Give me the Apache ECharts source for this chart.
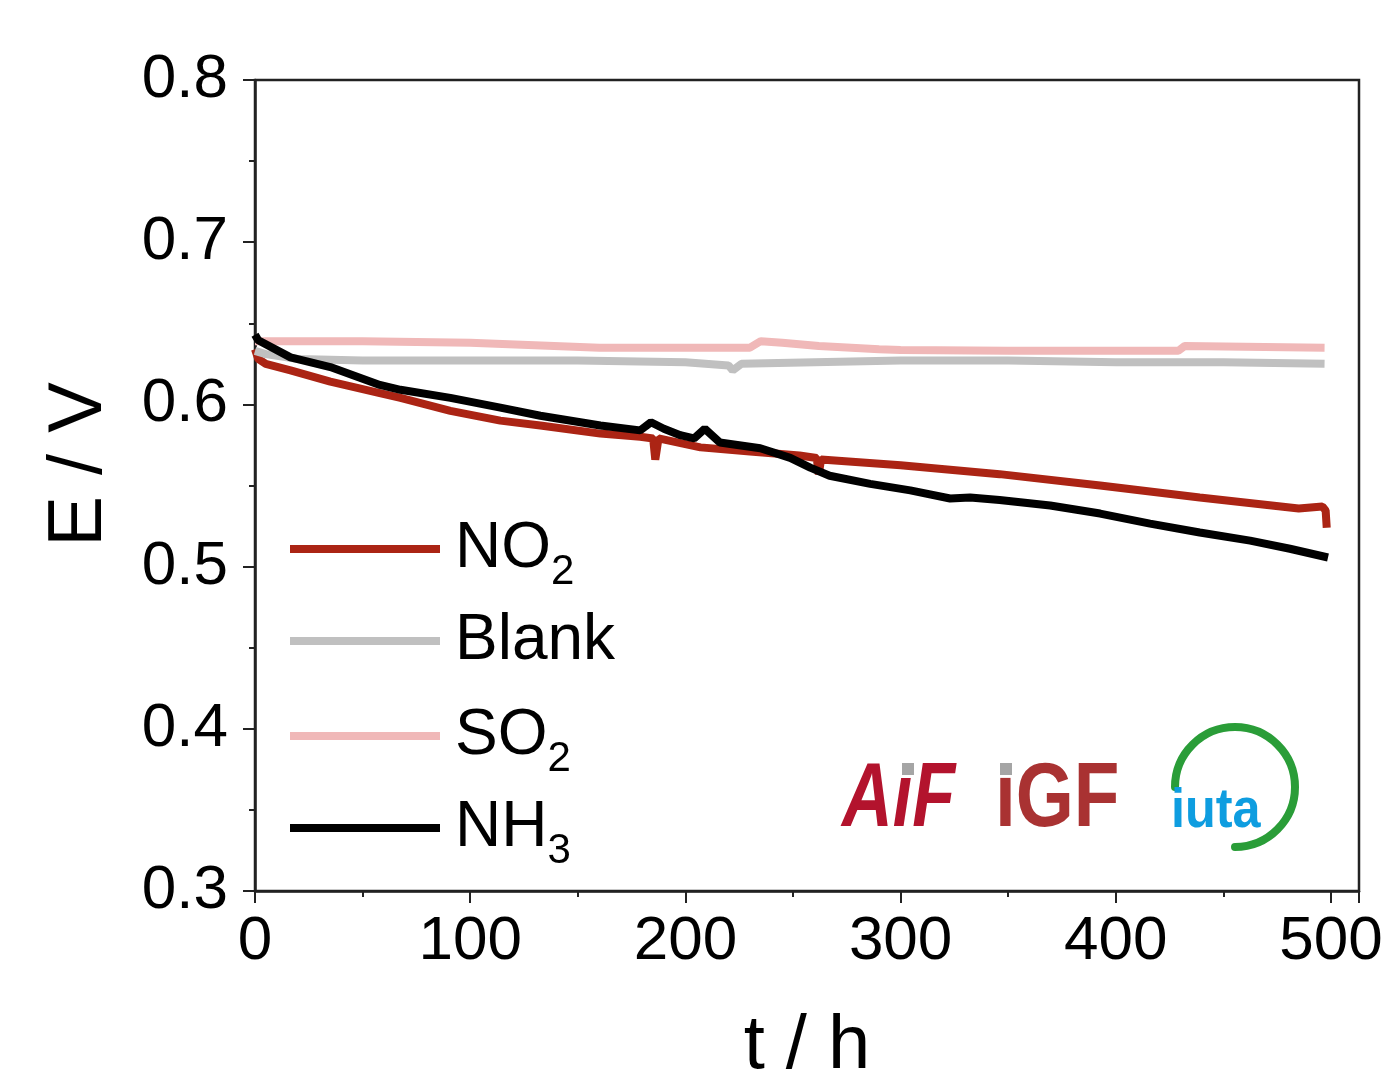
<!DOCTYPE html>
<html style="height: 100%">
<head>
    <meta charset="utf-8">
    <style>
        body { margin: 0; background: #fff; }
        #chart { width: 1388px; height: 1071px; }
    </style>
    <script type="text/javascript" src="https://cdn.jsdelivr.net/npm/echarts@6/dist/echarts.min.js"></script>
</head>
<body>
<div id="chart"></div>
<script type="text/javascript">
    // values (t in h, E in V)
    var seriesNames = ['NO2', 'Blank', 'SO2', 'NH3'];
    var seriesColors = ['#ab2414', '#c0c0c0', '#f0b8b8', '#000000'];

    var tNO2 = [0, 1.5, 5, 16.5, 35, 58, 67.6, 90.8, 114, 132.6, 160.5, 179, 185, 186, 187.5, 207, 230, 253, 261, 262, 263, 300, 346, 392.7, 439, 485, 496, 497.5, 498];
    var vNO2 = [0.634, 0.628, 0.625, 0.621, 0.614, 0.607, 0.604, 0.596, 0.590, 0.587, 0.582, 0.580, 0.579, 0.566, 0.579, 0.5735, 0.571, 0.5685, 0.567, 0.557, 0.566, 0.5625, 0.557, 0.550, 0.5426, 0.5358, 0.537, 0.5346, 0.524];

    var tBlank = [0, 5, 20, 50, 100, 150, 200, 220, 222, 226, 260, 300, 350, 400, 450, 497];
    var vBlank = [0.633, 0.631, 0.628, 0.627, 0.627, 0.627, 0.626, 0.624, 0.621, 0.625, 0.626, 0.627, 0.627, 0.626, 0.626, 0.625];

    var tSO2 = [0, 50, 100, 160, 230, 235, 245, 262, 290, 300, 350, 400, 429, 432, 497];
    var vSO2 = [0.639, 0.639, 0.638, 0.635, 0.635, 0.639, 0.638, 0.636, 0.634, 0.6335, 0.633, 0.633, 0.633, 0.636, 0.635];

    var tNH3 = [0, 1.5, 16.5, 35, 58, 67.6, 90.8, 114, 132.6, 160.5, 179, 184, 190, 197.6, 204, 209, 216, 234.8, 248.7, 258, 267, 285.9, 304.5, 323, 332.3, 346, 369.5, 392.7, 415.9, 439, 462.4, 480.9, 498.6];
    var vNH3 = [0.643, 0.6395, 0.629, 0.623, 0.612, 0.609, 0.604, 0.598, 0.593, 0.587, 0.584, 0.589, 0.585, 0.581, 0.579, 0.585, 0.5765, 0.573, 0.567, 0.561, 0.556, 0.551, 0.547, 0.542, 0.5426, 0.541, 0.5377, 0.5327, 0.5265, 0.521, 0.516, 0.511, 0.5056];

    var xTicks = [0, 100, 200, 300, 400, 500];
    var yTicks = ['0.3', '0.4', '0.5', '0.6', '0.7', '0.8'];

    function pairs(t, v) {
        return t.map(function (x, i) { return [x, v[i]]; });
    }
    var allData = [pairs(tNO2, vNO2), pairs(tBlank, vBlank), pairs(tSO2, vSO2), pairs(tNH3, vNH3)];

    var FONT = 'Liberation Sans';

    // one legend block per entry so the rows sit where the picture has them
    var legendTops = [517, 609, 704, 796];
    function legendFor(name, i) {
        return {
            orient: 'vertical',
            left: 290,
            top: legendTops[i],
            padding: 0,
            itemWidth: 150,
            itemHeight: 8,
            icon: 'rect',
            data: [name],
            formatter: function (n) {
                var m = n.match(/^(.*?)(\d)$/);
                if (m) return '{n|' + m[1] + '}{s|' + m[2] + '}';
                return '{n|' + n + '}{s| }';
            },
            textStyle: {
                padding: [0, 0, 0, 10],
                rich: {
                    n: { fontFamily: FONT, fontSize: 64, color: '#000', lineHeight: 80, verticalAlign: 'middle' },
                    s: { fontFamily: FONT, fontSize: 42, color: '#000', lineHeight: 88, verticalAlign: 'bottom' }
                }
            }
        };
    }

    var dom = document.getElementById('chart');
    var myChart = echarts.init(dom);

    option = {
        backgroundColor: '#fff',
        animation: false,
        grid: {
            left: 255, right: 29, top: 80, bottom: 180,
            containLabel: false,
            outerBoundsMode: 'none',
            show: true, borderColor: '#222', borderWidth: 2.5
        },
        legend: seriesNames.map(legendFor),
        xAxis: {
            type: 'value',
            min: 0,
            max: 513,
            interval: 100,
            name: 't / h',
            nameLocation: 'middle',
            nameGap: 118,
            nameTextStyle: { fontFamily: FONT, fontSize: 76, color: '#000' },
            axisLine: { show: true, lineStyle: { color: '#222', width: 2.5 } },
            axisTick: { show: true, inside: false, length: 12, lineStyle: { color: '#222', width: 2 } },
            minorTick: { show: true, splitNumber: 2, length: 6, lineStyle: { color: '#222', width: 2 } },
            splitLine: { show: false },
            axisLabel: {
                fontFamily: FONT, fontSize: 62, color: '#000', margin: 20,
                formatter: function (v) { return xTicks.indexOf(v) >= 0 ? String(v) : ''; }
            }
        },
        yAxis: {
            type: 'value',
            min: 0.3,
            max: 0.8,
            interval: 0.1,
            name: 'E / V',
            nameLocation: 'middle',
            nameGap: 137,
            nameTextStyle: { fontFamily: FONT, fontSize: 76, color: '#000', padding: [0, 0, 0, 42] },
            axisLine: { show: true, lineStyle: { color: '#222', width: 2.5 } },
            axisTick: { show: true, inside: false, length: 12, lineStyle: { color: '#222', width: 2 } },
            minorTick: { show: true, splitNumber: 2, length: 6, lineStyle: { color: '#222', width: 2 } },
            splitLine: { show: false },
            axisLabel: {
                fontFamily: FONT, fontSize: 62, color: '#000', margin: 27,
                formatter: function (v) {
                    var s = v.toFixed(1);
                    return yTicks.indexOf(s) >= 0 ? s : '';
                }
            }
        },
        series: seriesNames.map(function (name, i) {
            return {
                name: name,
                type: 'line',
                data: allData[i],
                showSymbol: false,
                symbol: 'none',
                color: seriesColors[i],
                lineStyle: { width: 8, color: seriesColors[i] },
                z: 2 + i
            };
        }),
        graphic: [
            // AiF logo
            { type: 'text', x: 842, y: 801, scaleX: 0.78,
              style: { text: 'A\u0131F', x: 0, y: 0, fontFamily: FONT, fontWeight: 'bold', fontStyle: 'italic', fontSize: 90, fill: '#b3132d', verticalAlign: 'middle', align: 'left' } },
            { type: 'rect', shape: { x: 902, y: 763, width: 12, height: 12 }, style: { fill: '#a5a5a5' } },
            // iGF logo
            { type: 'text', x: 995, y: 801, scaleX: 0.83,
              style: { text: '\u0131GF', x: 0, y: 0, fontFamily: FONT, fontWeight: 'bold', fontSize: 90, fill: '#a93232', verticalAlign: 'middle', align: 'left' } },
            { type: 'rect', shape: { x: 1000, y: 763, width: 12, height: 12 }, style: { fill: '#a5a5a5' } },
            // iuta logo
            { type: 'arc', shape: { cx: 1235, cy: 787, r: 60, startAngle: Math.PI, endAngle: Math.PI / 2, clockwise: true },
              style: { stroke: '#2a9d38', lineWidth: 8, fill: null, lineCap: 'round' } },
            { type: 'text', x: 1171, y: 812, scaleX: 0.9,
              style: { text: 'iuta', x: 0, y: 0, fontFamily: FONT, fontWeight: 'bold', fontSize: 56, fill: '#0e9de0', verticalAlign: 'middle', align: 'left' } }
        ]
    };

    if (option && typeof option === "object") {
        myChart.setOption(option, true);
    }
</script>
</body>
</html>
